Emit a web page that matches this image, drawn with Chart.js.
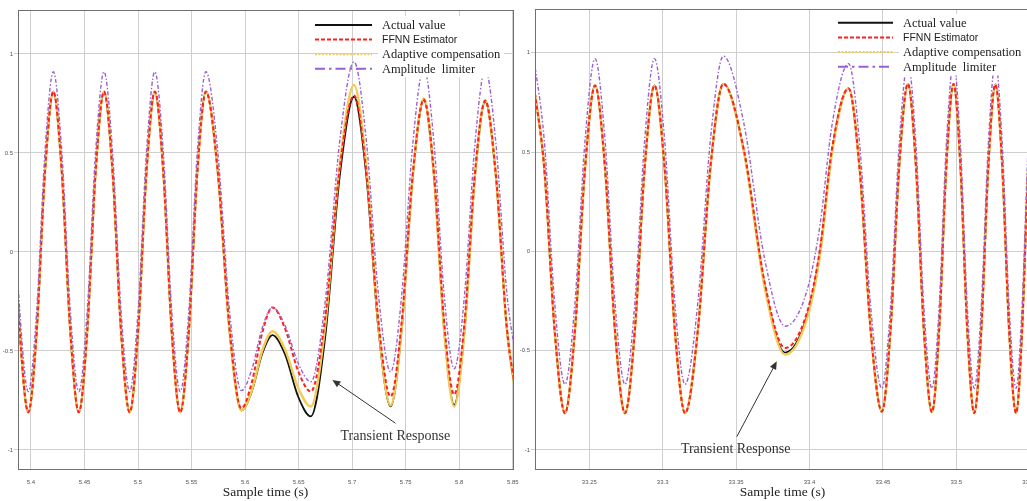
<!DOCTYPE html>
<html>
<head>
<meta charset="utf-8">
<script src="https://cdn.jsdelivr.net/npm/chart.js@4.4.1/dist/chart.umd.min.js"></script>
<style>
  html, body { margin: 0; padding: 0; background: #fff; overflow: hidden; width: 1027px; height: 501px; }
  canvas { position: absolute; top: 0; }
  #leftChart { left: 0; }
  #rightChart { left: 520px; }
</style>
</head>
<body>
<canvas id="leftChart" width="520" height="501"></canvas>
<canvas id="rightChart" width="510" height="501"></canvas>
<script>
// left panel: 5.39 .. 5.85 s
const leftTime = [5.3737, 5.3816, 5.3896, 5.3975, 5.4053, 5.4131, 5.4209, 5.4288, 5.4368, 5.4447,
  5.4525, 5.4604, 5.4682, 5.4762, 5.4842, 5.4922, 5.5000, 5.5079, 5.5157, 5.5236,
  5.5315, 5.5394, 5.5474, 5.5554, 5.5634, 5.5744, 5.5855, 5.5965, 5.6062, 5.6159,
  5.6256, 5.6375, 5.6495, 5.6614, 5.6748, 5.6883, 5.7017, 5.7131, 5.7245, 5.7359,
  5.7462, 5.7566, 5.7669, 5.7764, 5.7858, 5.7953, 5.8050, 5.8146, 5.8243, 5.8343,
  5.8444, 5.8544];
const leftActual = [0.81, 0.405, -0.405, -0.81, -0.405, 0.405, 0.81, 0.405, -0.405, -0.81,
  -0.405, 0.405, 0.81, 0.405, -0.405, -0.81, -0.405, 0.405, 0.81, 0.405,
  -0.405, -0.81, -0.405, 0.405, 0.81, 0.41, -0.40, -0.80, -0.705, -0.515,
  -0.42, -0.52, -0.73, -0.83, -0.43, 0.38, 0.784, 0.393, -0.389, -0.78,
  -0.393, 0.381, 0.768, 0.383, -0.388, -0.773, -0.39, 0.377, 0.76, 0.378,
  -0.388, -0.77];
const leftFfnn = [0.81, 0.405, -0.405, -0.81, -0.405, 0.405, 0.81, 0.405, -0.405, -0.81,
  -0.405, 0.405, 0.81, 0.405, -0.405, -0.81, -0.405, 0.405, 0.81, 0.405,
  -0.405, -0.81, -0.405, 0.405, 0.81, 0.41, -0.39, -0.79, -0.66, -0.41,
  -0.28, -0.39, -0.60, -0.705, -0.33, 0.42, 0.79, 0.41, -0.35, -0.73,
  -0.355, 0.395, 0.77, 0.398, -0.348, -0.72, -0.349, 0.394, 0.765, 0.384,
  -0.379, -0.76];
const leftAdaptive = [0.81, 0.405, -0.405, -0.81, -0.405, 0.405, 0.81, 0.405, -0.405, -0.81,
  -0.405, 0.405, 0.81, 0.405, -0.405, -0.81, -0.405, 0.405, 0.81, 0.405,
  -0.405, -0.81, -0.405, 0.405, 0.81, 0.41, -0.40, -0.80, -0.70, -0.50,
  -0.40, -0.495, -0.685, -0.78, -0.374, 0.437, 0.843, 0.439, -0.371, -0.775,
  -0.388, 0.388, 0.775, 0.386, -0.391, -0.78, -0.394, 0.379, 0.765, 0.381,
  -0.386, -0.77];
const leftLimiter = [0.91, 0.506, -0.301, -0.705, -0.301, 0.506, 0.91, 0.506, -0.301, -0.705,
  -0.301, 0.506, 0.91, 0.506, -0.301, -0.705, -0.301, 0.506, 0.91, 0.506,
  -0.301, -0.705, -0.301, 0.506, 0.91, 0.51, -0.30, -0.70, -0.595, -0.385,
  -0.28, -0.374, -0.561, -0.655, -0.251, 0.556, 0.96, 0.569, -0.214, -0.605,
  -0.221, 0.546, 0.93, 0.55, -0.21, -0.59, -0.2125, 0.5425, 0.92, 0.545,
  -0.205, -0.58];

// right panel: 33.21 .. 33.55 s
const rightTime = [33.2123, 33.2193, 33.2264, 33.2334, 33.2402, 33.2471, 33.2539, 33.2607, 33.2675, 33.2743,
  33.2810, 33.2877, 33.2944, 33.3013, 33.3083, 33.3152, 33.3239, 33.3326, 33.3413, 33.3553,
  33.3694, 33.3834, 33.3982, 33.4073, 33.4152, 33.4266, 33.4342, 33.4417, 33.4493, 33.4552,
  33.4611, 33.4670, 33.4725, 33.4779, 33.4834, 33.4883, 33.4932, 33.4981, 33.5028, 33.5075,
  33.5122, 33.5170, 33.5218, 33.5266, 33.5313, 33.5360, 33.5407, 33.5448, 33.5490, 33.5531];
const rightActual = [0.83, 0.42, -0.40, -0.815, -0.40, 0.42, 0.835, 0.42, -0.40, -0.815,
  -0.40, 0.42, 0.835, 0.42, -0.40, -0.815, -0.40, 0.43, 0.843, 0.505,
  -0.172, -0.51, -0.33, 0.0, 0.5, 0.82, 0.41, -0.40, -0.807, -0.395,
  0.43, 0.843, 0.43, -0.397, -0.81, -0.397, 0.43, 0.843, 0.428, -0.40,
  -0.815, -0.401, 0.426, 0.84, 0.426, -0.401, -0.815, -0.401, 0.426, 0.84];
const rightFfnn = [0.83, 0.42, -0.40, -0.815, -0.40, 0.42, 0.835, 0.42, -0.40, -0.815,
  -0.40, 0.42, 0.835, 0.42, -0.40, -0.815, -0.40, 0.43, 0.843, 0.51,
  -0.155, -0.487, -0.31, 0.02, 0.51, 0.82, 0.41, -0.40, -0.807, -0.395,
  0.43, 0.843, 0.43, -0.397, -0.81, -0.397, 0.43, 0.843, 0.428, -0.40,
  -0.815, -0.401, 0.426, 0.84, 0.426, -0.401, -0.815, -0.401, 0.426, 0.84];
const rightAdaptive = [0.83, 0.42, -0.40, -0.815, -0.40, 0.42, 0.835, 0.42, -0.40, -0.815,
  -0.40, 0.42, 0.835, 0.42, -0.40, -0.815, -0.40, 0.43, 0.843, 0.502,
  -0.179, -0.52, -0.34, -0.01, 0.49, 0.82, 0.41, -0.40, -0.807, -0.395,
  0.43, 0.843, 0.43, -0.397, -0.81, -0.397, 0.43, 0.843, 0.428, -0.40,
  -0.815, -0.401, 0.426, 0.84, 0.426, -0.401, -0.815, -0.401, 0.426, 0.84];
const rightLimiter = [0.97, 0.56, -0.26, -0.67, -0.26, 0.56, 0.97, 0.56, -0.26, -0.67,
  -0.26, 0.56, 0.97, 0.56, -0.26, -0.67, -0.26, 0.57, 0.983, 0.643,
  -0.037, -0.377, -0.20, 0.14, 0.63, 0.945, 0.536, -0.281, -0.69, -0.28,
  0.54, 0.95, 0.54, -0.28, -0.69, -0.28, 0.54, 0.95, 0.54, -0.28,
  -0.69, -0.28, 0.54, 0.95, 0.54, -0.28, -0.69, -0.28, 0.54, 0.95];

const seriesStyle = [
  { label: 'Actual value', color: '#111111', width: 1.8, dash: [], legendDash: [], order: 4,
    font: '12.5px "Liberation Serif"' },
  { label: 'FFNN Estimator', color: '#ff1f1f', width: 2, dash: [4, 2.5], legendDash: [4, 2], order: 2,
    font: '10.5px "Liberation Sans"' },
  { label: 'Adaptive compensation', color: '#f2cc55', width: 2.4, dash: [], legendDash: [2, 1.5], order: 3,
    font: '12.5px "Liberation Serif"' },
  { label: 'Amplitude  limiter', color: '#9b5fd4', width: 1.4, dash: [4, 2, 1.5, 2], legendDash: [10, 4, 2.5, 4], order: 1,
    font: '12.5px "Liberation Serif"' },
];

Chart.defaults.font.family = '"Liberation Sans", sans-serif';

const framePlugin = {
  id: 'frame',
  afterDraw(chart) {
    const { ctx, chartArea: a } = chart;
    ctx.save();
    ctx.strokeStyle = '#707070';
    ctx.lineWidth = 1;
    ctx.strokeRect(Math.round(a.left) + 0.5, Math.round(a.top) + 0.5,
      Math.round(a.right - a.left), Math.round(a.bottom - a.top));
    ctx.restore();
  }
};

// legend drawn inside the plot, white only behind the text column
function legendPlugin(o) {
  return {
    id: 'inLegend',
    afterDatasetsDraw(chart) {
      const ctx = chart.ctx;
      ctx.save();
      ctx.fillStyle = '#fff';
      ctx.fillRect(o.textX - 4, o.y - 9, o.boxW, o.rowH * seriesStyle.length + 3);
      seriesStyle.forEach((s, i) => {
        const yy = o.y + i * o.rowH;
        ctx.beginPath();
        ctx.setLineDash(s.legendDash);
        ctx.strokeStyle = s.color;
        ctx.lineWidth = 2;
        ctx.moveTo(o.lineX, yy);
        ctx.lineTo(o.lineX + o.lineW, yy);
        ctx.stroke();
        ctx.setLineDash([]);
        ctx.fillStyle = '#222';
        ctx.font = s.font;
        ctx.textAlign = 'left';
        ctx.textBaseline = 'middle';
        ctx.fillText(s.label, o.textX, yy + 1);
      });
      ctx.restore();
    }
  };
}

// arrow + caption, placed in data units
function notePlugin(o) {
  return {
    id: 'note',
    afterDatasetsDraw(chart) {
      const { ctx, scales: { x, y } } = chart;
      const hx = x.getPixelForValue(o.head[0]), hy = y.getPixelForValue(o.head[1]);
      const tx = x.getPixelForValue(o.tail[0]), ty = y.getPixelForValue(o.tail[1]);
      const ang = Math.atan2(hy - ty, hx - tx);
      const c = Math.cos(ang), s = Math.sin(ang);
      ctx.save();
      ctx.strokeStyle = '#333';
      ctx.fillStyle = '#333';
      ctx.lineWidth = 1;
      ctx.beginPath();
      ctx.moveTo(tx, ty);
      ctx.lineTo(hx - 6 * c, hy - 6 * s);
      ctx.stroke();
      ctx.beginPath();
      ctx.moveTo(hx, hy);
      ctx.lineTo(hx - 8 * c + 3.5 * s, hy - 8 * s - 3.5 * c);
      ctx.lineTo(hx - 8 * c - 3.5 * s, hy - 8 * s + 3.5 * c);
      ctx.closePath();
      ctx.fill();
      ctx.font = '14px "Liberation Serif"';
      ctx.textAlign = 'center';
      ctx.textBaseline = 'middle';
      ctx.fillText(o.text, x.getPixelForValue(o.at[0]), y.getPixelForValue(o.at[1]));
      ctx.restore();
    }
  };
}

const tickText = v => String(Math.round(v * 100) / 100);

function makeChart(id, time, values, view) {
  return new Chart(document.getElementById(id), {
    type: 'line',
    data: {
      datasets: seriesStyle.map((s, k) => ({
        label: s.label,
        data: time.map((t, i) => ({ x: t, y: values[k][i] })),
        borderColor: s.color,
        borderWidth: s.width,
        borderDash: s.dash,
        order: s.order,
        pointRadius: 0,
        fill: false,
        cubicInterpolationMode: 'monotone',
      })),
    },
    options: {
      responsive: false,
      animation: false,
      devicePixelRatio: 1,
      layout: { padding: view.padding },
      plugins: { legend: { display: false }, tooltip: { enabled: false } },
      scales: {
        x: {
          type: 'linear',
          min: view.xMin,
          max: view.xMax,
          afterFit: sc => { sc.height = 32; sc.paddingLeft = 0; sc.paddingRight = 0; },
          ticks: { stepSize: 0.05, includeBounds: false, padding: 10, autoSkip: false, maxRotation: 0,
            font: { size: 6 }, color: '#555', callback: tickText },
          grid: { color: '#cfcfcf', drawTicks: false },
          border: { color: '#707070' },
          title: { display: true, text: 'Sample time (s)', color: '#222',
            font: { family: '"Liberation Serif", serif', size: 13.5 }, padding: { top: 0, bottom: 0 } },
        },
        y: {
          min: view.yMin,
          max: view.yMax,
          afterFit: sc => { sc.width = view.yWidth; sc.paddingTop = 0; sc.paddingBottom = 0; },
          ticks: { stepSize: 0.5, includeBounds: false, padding: 1, font: { size: 6 }, color: '#555',
            callback: tickText },
          grid: { color: '#cfcfcf', tickLength: 4 },
          border: { color: '#707070' },
        },
      },
    },
    plugins: [legendPlugin(view.legend), notePlugin(view.note), framePlugin],
  });
}

makeChart('leftChart', leftTime, [leftActual, leftFfnn, leftAdaptive, leftLimiter], {
  xMin: 5.3879, xMax: 5.8502, yMin: -1.096, yMax: 1.222, yWidth: 18,
  padding: { top: 10, right: 7, left: 0, bottom: 0 },
  legend: { lineX: 315, lineW: 57, textX: 382, y: 25, rowH: 14.6, boxW: 126 },
  note: { text: 'Transient Response', head: [5.6815, -0.646], tail: [5.7405, -0.865], at: [5.7403, -0.929] },
});

makeChart('rightChart', rightTime, [rightActual, rightFfnn, rightAdaptive, rightLimiter], {
  xMin: 33.213, xMax: 33.5502, yMin: -1.096, yMax: 1.22, yWidth: 15,
  padding: { top: 9, right: 0, left: 0, bottom: 0 },
  legend: { lineX: 318, lineW: 55, textX: 383, y: 22.7, rowH: 14.7, boxW: 131 },
  note: { text: 'Transient Response', head: [33.3777, -0.554], tail: [33.3505, -0.933], at: [33.3497, -0.995] },
});
</script>
</body>
</html>
